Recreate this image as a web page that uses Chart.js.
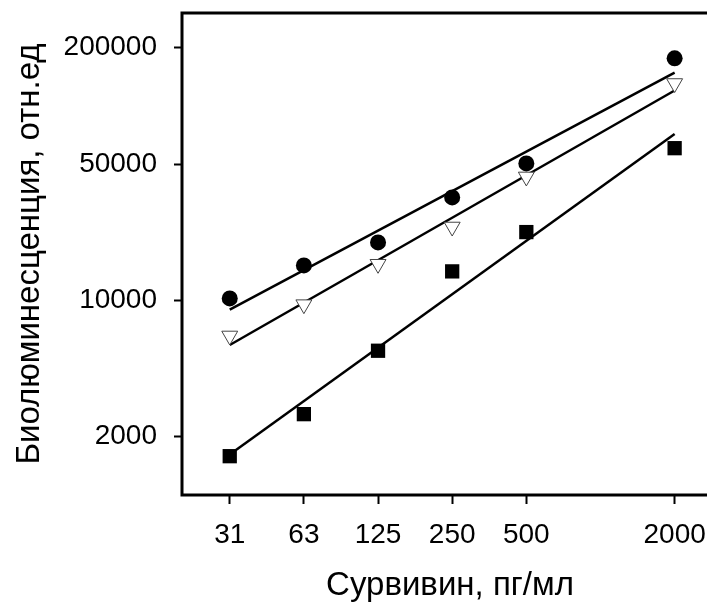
<!DOCTYPE html>
<html>
  <head>
    <title>Survivin bioluminescence</title>
    <meta charset="UTF-8">
    <script src="https://cdn.jsdelivr.net/npm/chart.js"></script>
    <style>
      html, body { margin: 0; padding: 0; overflow: hidden; background: #fff; }
      canvas { display: block; }
    </style>
  </head>
  <body>
    <canvas id="bioChart" width="740" height="602"></canvas>
    <script>
      // concentrations (pg/ml) and the labels printed under them
      const concentrations = [31.25, 62.5, 125, 250, 500, 2000];
      const xTickLabels = ['31', '63', '125', '250', '500', '2000'];
      const yTickValues = [2000, 10000, 50000, 200000];

      // readings (rel. units)
      const circleValues   = [10240, 15130, 19870, 33850, 50580, 175500];
      const triangleValues = [6580, 9530, 15370, 23890, 43200, 130500];
      const squareValues   = [1583, 2603, 5513, 14100, 22450, 60590];

      const toPoints = vals => concentrations.map((c, i) => ({ x: c, y: vals[i] }));

      // least squares fit in log-log space, two end points for the straight line
      function fitLine(vals) {
        const lx = concentrations.map(Math.log10);
        const ly = vals.map(Math.log10);
        const n = lx.length;
        const mx = lx.reduce((a, b) => a + b, 0) / n;
        const my = ly.reduce((a, b) => a + b, 0) / n;
        let sxy = 0, sxx = 0;
        for (let i = 0; i < n; i++) {
          sxy += (lx[i] - mx) * (ly[i] - my);
          sxx += (lx[i] - mx) * (lx[i] - mx);
        }
        const k = sxy / sxx;
        const b = my - k * mx;
        const ends = [concentrations[0], concentrations[n - 1]];
        return ends.map(x => ({ x: x, y: Math.pow(10, b + k * Math.log10(x)) }));
      }

      const fitStyle = {
        type: 'line',
        showLine: true,
        borderColor: '#000',
        borderWidth: 2.5,
        pointRadius: 0,
        fill: false
      };

      // full frame round the plot area
      const framePlugin = {
        id: 'frame',
        afterDraw(chart) {
          const a = chart.chartArea;
          const ctx = chart.ctx;
          ctx.save();
          ctx.strokeStyle = '#000';
          ctx.lineWidth = 3;
          ctx.strokeRect(a.left, a.top, a.right - a.left, a.bottom - a.top);
          ctx.restore();
        }
      };

      Chart.defaults.font.family = "'Liberation Sans', Arial, sans-serif";
      Chart.defaults.color = '#000';

      const ctx = document.getElementById('bioChart').getContext('2d');
      const bioChart = new Chart(ctx, {
        type: 'scatter',
        data: {
          datasets: [
            {
              label: 'circles',
              data: toPoints(circleValues),
              pointStyle: 'circle',
              pointRadius: 8,
              backgroundColor: '#000',
              borderColor: '#000',
              borderWidth: 0
            },
            {
              label: 'triangles',
              data: toPoints(triangleValues),
              pointStyle: 'triangle',
              pointRotation: 180,
              pointRadius: 9.2,
              backgroundColor: '#fff',
              borderColor: '#444',
              borderWidth: 1
            },
            {
              label: 'squares',
              data: toPoints(squareValues),
              pointStyle: 'rect',
              pointRadius: 10.1,
              backgroundColor: '#000',
              borderColor: '#000',
              borderWidth: 0
            },
            Object.assign({ label: 'fit circles', data: fitLine(circleValues) }, fitStyle),
            Object.assign({ label: 'fit triangles', data: fitLine(triangleValues) }, fitStyle),
            Object.assign({ label: 'fit squares', data: fitLine(squareValues) }, fitStyle)
          ]
        },
        options: {
          responsive: false,
          animation: false,
          devicePixelRatio: 1,
          layout: { padding: { left: 0, top: 13, right: 22, bottom: 0 } },
          plugins: {
            legend: { display: false },
            tooltip: { enabled: false }
          },
          scales: {
            x: {
              type: 'logarithmic',
              position: 'bottom',
              min: 20,
              max: 3000,
              bounds: 'data',
              afterBuildTicks: s => { s.ticks = concentrations.map(v => ({ value: v })); },
              afterFit: s => { s.height = 107; s.paddingLeft = 0; s.paddingRight = 0; },
              border: { display: false },
              grid: {
                drawOnChartArea: false,
                drawTicks: true,
                tickLength: 9,
                tickWidth: 2,
                tickColor: '#000'
              },
              ticks: {
                autoSkip: false,
                maxRotation: 0,
                padding: 14,
                font: { size: 28 },
                callback: (v, i) => xTickLabels[i]
              },
              title: {
                display: true,
                text: 'Сурвивин, пг/мл',
                font: { size: 33, lineHeight: 1 },
                padding: { top: 0, bottom: 0 }
              }
            },
            y: {
              type: 'logarithmic',
              position: 'left',
              min: 1000,
              max: 300000,
              bounds: 'data',
              afterBuildTicks: s => { s.ticks = yTickValues.map(v => ({ value: v })); },
              afterFit: s => { s.width = 182; s.paddingTop = 0; s.paddingBottom = 0; },
              border: { display: false },
              grid: {
                drawOnChartArea: false,
                drawTicks: true,
                tickLength: 8,
                tickWidth: 2,
                tickColor: '#000'
              },
              ticks: {
                padding: 17,
                font: { size: 28 },
                callback: v => String(v)
              },
              title: {
                display: true,
                text: 'Биолюминесценция, отн.ед',
                font: { size: 33, lineHeight: 1 },
                padding: { top: 13, bottom: 0 }
              }
            }
          }
        },
        plugins: [framePlugin]
      });
    </script>
  </body>
</html>
